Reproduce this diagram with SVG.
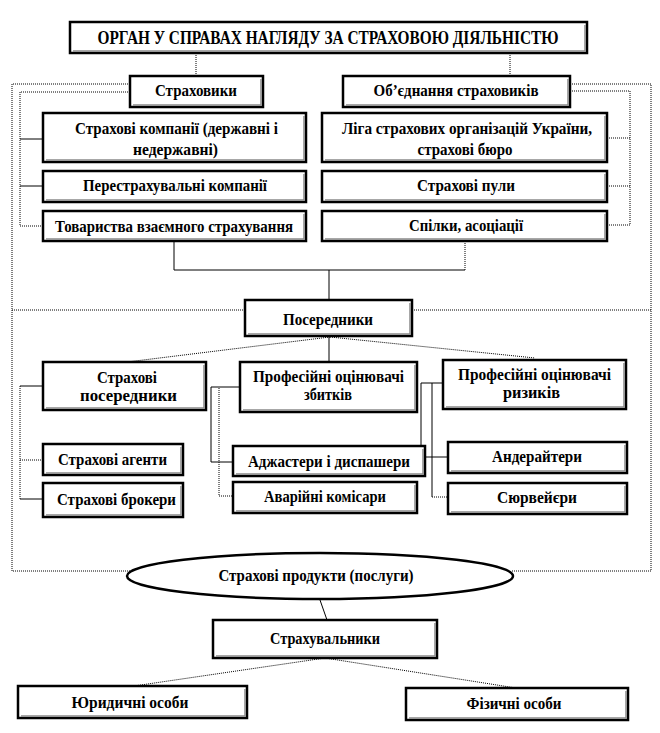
<svg xmlns="http://www.w3.org/2000/svg" width="660" height="733" viewBox="0 0 660 733">
<style>
.box{fill:#fff;stroke:#000;stroke-width:2.5}
.sh{fill:none;stroke:#8a8a8a;stroke-width:1.5}
.t{font-family:"Liberation Serif","Times New Roman",serif;font-weight:bold;font-size:17px;text-anchor:middle;fill:#000}
.tt{font-size:18px}
.dot{fill:none;stroke:#000;stroke-width:1;stroke-dasharray:1 1}
.sol{fill:none;stroke:#000;stroke-width:1}
</style>
<rect width="660" height="733" fill="#fff"/>
<g id="connectors">
<path class="dot" d="M196,53V76M510,53V76"/>
<path class="dot" d="M130,84H12V571H130M512,571H651V84H570"/>
<path class="dot" d="M12,310H245M412,310H651"/>
<path class="dot" d="M130,92H20V226H43"/>
<path class="sol" d="M20,139H43M20,186H43"/>
<path class="dot" d="M570,91H630V225H607M607,138H630M607,186H630"/>
<path class="sol" d="M174,241V270H465M329,270V300"/>
<path class="dot" d="M465,270V241"/>
<path class="dot" d="M330,337L127,362M330,337L535,358"/>
<path class="sol" d="M329,336V362"/>
<path class="dot" d="M20,386V499M20,460H43"/>
<path class="sol" d="M43,386H20M20,499H43"/>
<path class="sol" d="M240,387H211V462H233"/>
<path class="dot" d="M219,388V496H233"/>
<path class="sol" d="M443,383H421V457H448M432,383V497"/>
<path class="dot" d="M432,497H448"/>
<path class="sol" d="M320,600L327,620"/>
<path class="dot" d="M325,658L134,686M325,658L516,688"/>
</g>
<g id="n-title"><rect class="box" x="70" y="22" width="517" height="31"/><path class="sh" d="M73,51H585V25"/><text class="t tt" x="328" y="44" textLength="461" lengthAdjust="spacingAndGlyphs">ОРГАН У СПРАВАХ НАГЛЯДУ ЗА СТРАХОВОЮ ДІЯЛЬНІСТЮ</text></g>
<g id="n-strakhovyky"><rect class="box" x="130" y="76" width="133" height="31"/><path class="sh" d="M133,105H261V79"/><text class="t" x="196" y="96" textLength="82" lengthAdjust="spacingAndGlyphs">Страховики</text></g>
<g id="n-obiednannia"><rect class="box" x="343" y="76" width="227" height="31"/><path class="sh" d="M346,105H568V79"/><text class="t" x="456" y="96" textLength="165" lengthAdjust="spacingAndGlyphs">Об’єднання страховиків</text></g>
<g id="n-kompanii"><rect class="box" x="43" y="113" width="263" height="49"/><path class="sh" d="M46,160H304V116"/><text class="t" x="176.5" y="134" textLength="203" lengthAdjust="spacingAndGlyphs">Страхові компанії (державні і</text><text class="t" x="175.5" y="155" textLength="85" lengthAdjust="spacingAndGlyphs">недержавні)</text></g>
<g id="n-perestr"><rect class="box" x="43" y="171" width="263" height="31"/><path class="sh" d="M46,200H304V174"/><text class="t" x="175" y="191" textLength="184" lengthAdjust="spacingAndGlyphs">Перестрахувальні компанії</text></g>
<g id="n-tovarystva"><rect class="box" x="43" y="211" width="263" height="30"/><path class="sh" d="M46,239H304V214"/><text class="t" x="174" y="232" textLength="238" lengthAdjust="spacingAndGlyphs">Товариства взаємного страхування</text></g>
<g id="n-liga"><rect class="box" x="322" y="113" width="285" height="49"/><path class="sh" d="M325,160H605V116"/><text class="t" x="467" y="134" textLength="250" lengthAdjust="spacingAndGlyphs">Ліга страхових організацій України,</text><text class="t" x="465" y="155" textLength="95" lengthAdjust="spacingAndGlyphs">страхові бюро</text></g>
<g id="n-puly"><rect class="box" x="322" y="171" width="285" height="31"/><path class="sh" d="M325,200H605V174"/><text class="t" x="466" y="191" textLength="98" lengthAdjust="spacingAndGlyphs">Страхові пули</text></g>
<g id="n-spilky"><rect class="box" x="322" y="211" width="285" height="30"/><path class="sh" d="M325,239H605V214"/><text class="t" x="466" y="231" textLength="114" lengthAdjust="spacingAndGlyphs">Спілки, асоціації</text></g>
<g id="n-poserednyky"><rect class="box" x="245" y="300" width="167" height="36"/><path class="sh" d="M248,334H410V303"/><text class="t" x="328" y="325" textLength="90" lengthAdjust="spacingAndGlyphs">Посередники</text></g>
<g id="n-strpos"><rect class="box" x="43" y="362" width="163" height="48"/><path class="sh" d="M46,408H204V365"/><text class="t" x="127" y="383" textLength="60" lengthAdjust="spacingAndGlyphs">Страхові</text><text class="t" x="128.5" y="401" textLength="97" lengthAdjust="spacingAndGlyphs">посередники</text></g>
<g id="n-zbytkiv"><rect class="box" x="240" y="362" width="177" height="50"/><path class="sh" d="M243,410H415V365"/><text class="t" x="328.5" y="382" textLength="151" lengthAdjust="spacingAndGlyphs">Професійні оцінювачі</text><text class="t" x="328" y="400" textLength="48" lengthAdjust="spacingAndGlyphs">збитків</text></g>
<g id="n-ryzykiv"><rect class="box" x="443" y="360" width="183" height="49"/><path class="sh" d="M446,407H624V363"/><text class="t" x="534.5" y="380" textLength="153" lengthAdjust="spacingAndGlyphs">Професійні оцінювачі</text><text class="t" x="531.5" y="398" textLength="57" lengthAdjust="spacingAndGlyphs">ризиків</text></g>
<g id="n-agenty"><rect class="box" x="43" y="444" width="140" height="31"/><path class="sh" d="M46,473H181V447"/><text class="t" x="112.5" y="465" textLength="109" lengthAdjust="spacingAndGlyphs">Страхові агенти</text></g>
<g id="n-brokery"><rect class="box" x="43" y="483" width="140" height="34"/><path class="sh" d="M46,515H181V486"/><text class="t" x="116.5" y="505" textLength="119" lengthAdjust="spacingAndGlyphs">Страхові брокери</text></g>
<g id="n-adzhastery"><rect class="box" x="233" y="446" width="192" height="30"/><path class="sh" d="M236,474H423V449"/><text class="t" x="329" y="467" textLength="162" lengthAdjust="spacingAndGlyphs">Аджастери і диспашери</text></g>
<g id="n-avariini"><rect class="box" x="233" y="482" width="184" height="31"/><path class="sh" d="M236,511H415V485"/><text class="t" x="325" y="502" textLength="122" lengthAdjust="spacingAndGlyphs">Аварійні комісари</text></g>
<g id="n-anderaitery"><rect class="box" x="448" y="442" width="179" height="31"/><path class="sh" d="M451,471H625V445"/><text class="t" x="537" y="462" textLength="90" lengthAdjust="spacingAndGlyphs">Андерайтери</text></g>
<g id="n-surveiery"><rect class="box" x="448" y="483" width="179" height="31"/><path class="sh" d="M451,512H625V486"/><text class="t" x="537" y="503" textLength="80" lengthAdjust="spacingAndGlyphs">Сюрвейєри</text></g>
<g id="n-produkty"><ellipse class="box" cx="320" cy="576" rx="193" ry="23"/><text class="t" x="316" y="581" textLength="195" lengthAdjust="spacingAndGlyphs">Страхові продукти (послуги)</text></g>
<g id="n-strakhuvalnyky"><rect class="box" x="213" y="620" width="224" height="38"/><path class="sh" d="M216,656H435V623"/><text class="t" x="325" y="644" textLength="110" lengthAdjust="spacingAndGlyphs">Страхувальники</text></g>
<g id="n-yurydychni"><rect class="box" x="18" y="686" width="229" height="32"/><path class="sh" d="M21,716H245V689"/><text class="t" x="130" y="708" textLength="117" lengthAdjust="spacingAndGlyphs">Юридичні особи</text></g>
<g id="n-fizychni"><rect class="box" x="406" y="688" width="222" height="32"/><path class="sh" d="M409,718H626V691"/><text class="t" x="514" y="709" textLength="95" lengthAdjust="spacingAndGlyphs">Фізичні особи</text></g>
</svg>
